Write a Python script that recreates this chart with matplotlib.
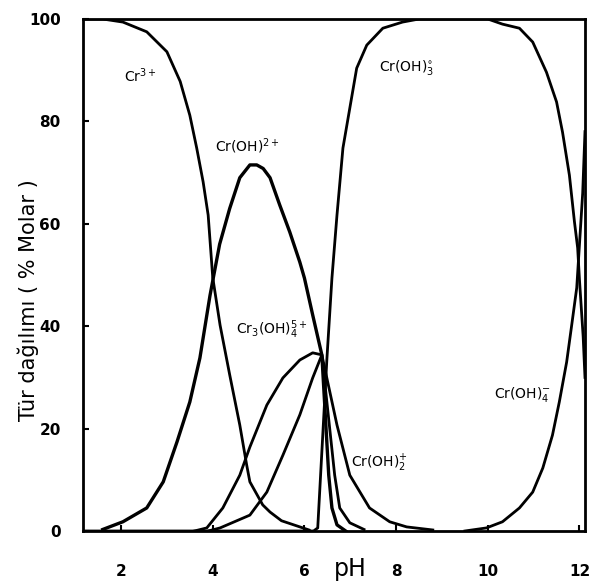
import numpy as np
import matplotlib
matplotlib.use('Agg')
import matplotlib.pyplot as plt

# Species distribution of Cr(III) vs pH
cr3_ph = [1.17, 1.6, 2.04, 2.56, 3.0, 3.29, 3.5, 3.65, 3.79, 3.9, 4.0, 4.16, 4.37, 4.59, 4.74, 4.81, 5.09, 5.25, 5.5, 5.9, 6.1]
cr3_val = [100, 100, 99.4, 97.5, 93.6, 87.8, 81.2, 74.8, 68.2, 61.7, 49.5, 40.2, 30.5, 20.7, 12.9, 9.6, 5.1, 3.7, 2.0, 0.8, 0.2]

croh_ph = [1.6, 2.04, 2.56, 2.92, 3.22, 3.5, 3.72, 3.94, 4.15, 4.37, 4.59, 4.81, 4.96, 5.1, 5.25, 5.46, 5.68, 5.9, 6.0, 6.18, 6.38, 6.53, 6.6, 6.71, 6.9]
croh_val = [0.3, 1.8, 4.5, 9.6, 17.4, 25.2, 33.8, 46.0, 56.0, 63.0, 69.0, 71.5, 71.5, 70.8, 69.0, 63.7, 58.4, 52.5, 49.4, 42.2, 34.4, 10.9, 4.5, 1.2, 0.0]

cr3oh4_ph = [3.6, 3.87, 4.22, 4.59, 4.81, 5.18, 5.53, 5.9, 6.18, 6.38, 6.66, 6.77, 6.99, 7.3]
cr3oh4_val = [0.0, 0.6, 4.5, 10.9, 16.4, 24.6, 29.9, 33.4, 34.8, 34.4, 10.9, 4.5, 1.6, 0.3]

croh2_ph = [3.9, 4.16, 4.81, 5.18, 5.53, 5.9, 6.18, 6.38, 6.71, 6.99, 7.42, 7.86, 8.23, 8.8]
croh2_val = [0.0, 0.6, 3.1, 7.6, 14.8, 22.7, 29.9, 34.4, 20.7, 10.9, 4.5, 1.8, 0.8, 0.2]

croh3_ph = [1.17, 6.2, 6.29, 6.49, 6.6, 6.71, 6.84, 6.99, 7.14, 7.36, 7.71, 8.14, 8.5, 10.0, 10.32, 10.69, 10.98, 11.28, 11.5, 11.63, 11.78, 11.89, 11.96, 12.0, 12.08, 12.12]
croh3_val = [0, 0, 0.6, 33.6, 49.4, 61.7, 74.8, 82.6, 90.4, 94.9, 98.2, 99.4, 100, 100, 99.0, 98.2, 95.5, 89.6, 83.8, 77.9, 69.5, 60.4, 55.3, 49.0, 38.0, 30.0]

croh4_ph = [9.5, 9.97, 10.32, 10.69, 10.98, 11.2, 11.41, 11.56, 11.72, 11.83, 11.94, 12.07, 12.12]
croh4_val = [0.0, 0.6, 1.8, 4.5, 7.6, 12.3, 18.7, 25.2, 33.0, 40.2, 47.5, 66.0, 78.0]

x_ticks = [2, 4, 6, 8, 10, 12]
y_ticks = [0, 20, 40, 60, 80, 100]

fig = plt.figure(figsize=(5.9, 5.83), dpi=100)
ax = fig.add_axes([0.1407, 0.0892, 0.8508, 0.8782])

lw = 2.0
ax.plot(cr3_ph, cr3_val, color='black', lw=lw)
ax.plot(croh_ph, croh_val, color='black', lw=lw + 0.4)
ax.plot(cr3oh4_ph, cr3oh4_val, color='black', lw=lw)
ax.plot(croh2_ph, croh2_val, color='black', lw=lw)
ax.plot(croh3_ph, croh3_val, color='black', lw=lw)
ax.plot(croh4_ph, croh4_val, color='black', lw=lw)

ax.set_xlim(1.17, 12.12)
ax.set_ylim(0, 100)

for s in ax.spines.values():
    s.set_linewidth(2.0)

ax.set_xticks(x_ticks)
ax.set_yticks(y_ticks)
ax.tick_params(axis='both', direction='in', length=4, width=1.5, labelsize=11)
ax.tick_params(axis='x', pad=24)
ax.tick_params(axis='y', pad=16)
for lab in ax.get_xticklabels() + ax.get_yticklabels():
    lab.set_fontweight('bold')

ax.text(7.0, -7.5, 'pH', fontsize=17, ha='center', va='center', clip_on=False)
fig.text(0.048, 0.485, 'Tür dağılımı ( % Molar )', rotation=90, fontsize=15,
         ha='center', va='center', color='black')

# species labels
lab_kw = dict(fontsize=10, ha='center', va='center')
ax.text(2.41, 89, r'Cr$^{3+}$', **lab_kw)
ax.text(4.75, 75.2, r'Cr(OH)$^{2+}$', **lab_kw)
ax.text(8.23, 90.6, r'Cr(OH)$_3^{\circ}$', **lab_kw)
ax.text(5.29, 39.3, r'Cr$_3$(OH)$_4^{5+}$', **lab_kw)
ax.text(7.64, 13.3, r'Cr(OH)$_2^{+}$', **lab_kw)
ax.text(10.76, 26.6, r'Cr(OH)$_4^{-}$', **lab_kw)

fig.savefig('out.png', dpi=100)
